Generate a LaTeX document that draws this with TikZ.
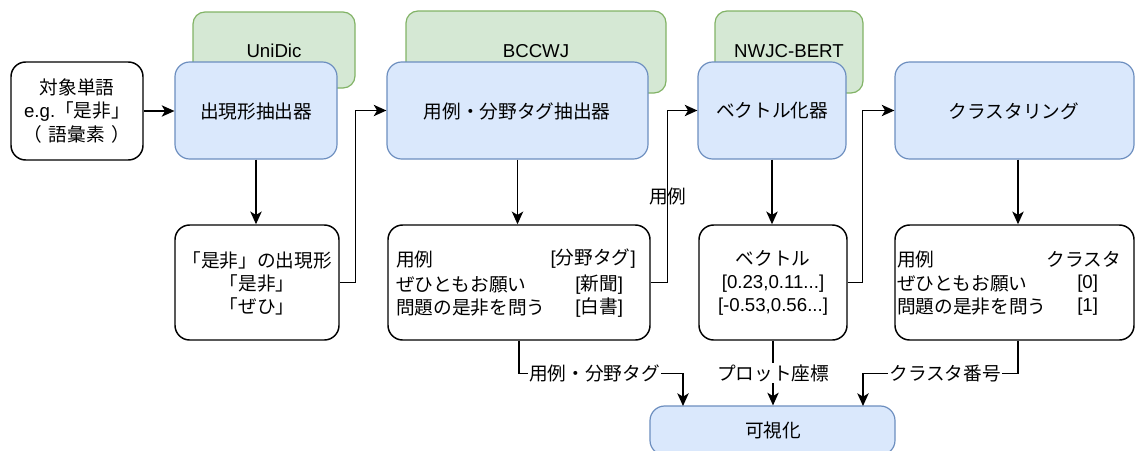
\documentclass[tikz,border=0pt]{standalone}
\usepackage{fontspec}
\setmainfont{Liberation Sans}
\newfontfamily\jp{Noto Sans CJK JP}
\usetikzlibrary{arrows.meta,fit}
\definecolor{bfill}{HTML}{DAE8FC}
\definecolor{bdraw}{HTML}{6C8EBF}
\definecolor{gfill}{HTML}{D5E8D4}
\definecolor{gdraw}{HTML}{82B366}
\begin{document}
\begin{tikzpicture}[x=0.75pt,y=-0.75pt,
  font=\fontsize{14}{17.3}\selectfont,
  bluebox/.style={draw=bdraw,fill=bfill,rounded corners=11pt,line width=0.9pt,inner sep=0pt,align=center},
  greenbox/.style={draw=gdraw,fill=gfill,rounded corners=9pt,line width=0.9pt,inner sep=0pt,align=center},
  whitebox/.style={draw=black,fill=white,rounded corners=11pt,line width=1.1pt,inner sep=0pt,align=center},
  txt/.style={inner sep=0pt},
  elabel/.style={fill=white,inner sep=1pt},
  conn/.style={line width=1.1pt,-{Stealth[length=9.5pt,width=8.5pt,inset=2.5pt]}}]
\useasboundingbox (0,0) rectangle (1135,450);

% green resource boxes
\node[greenbox,fit={(193,12)(355,88)}] (unidic) {};
\node[txt] (unidicT) at (274,51) {UniDic};
\node[greenbox,fit={(406,11)(666,93)}] (bccwj) {};
\node[txt] (bccwjT) at (536,51) {BCCWJ};
\node[greenbox,fit={(715,11)(863,93)}] (nwjc) {};
\node[txt] (nwjcT) at (789,51) {NWJC-BERT};

% top row
\node[whitebox,fit={(11,62)(143,160)}] (target) {};
\node[txt,align=center] (targetT) at (77,111) {{\jp 対象単語}\\e.g.{\jp 「是非」}\\{\jp （\hspace{0.35em}語彙素\hspace{0.35em}）}};
\node[bluebox,fit={(175,62)(337,159)}] (ext) {};
\node[txt] (extT) at (256,111) {\jp 出現形抽出器};
\node[bluebox,fit={(387,62)(648,159)}] (ex) {};
\node[txt] (exT) at (517,111) {\jp 用例・分野タグ抽出器};
\node[bluebox,fit={(698,62)(846,159)}] (vec) {};
\node[txt] (vecT) at (772,111) {\jp ベクトル化器};
\node[bluebox,fit={(895,62)(1134,159)}] (clus) {};
\node[txt] (clusT) at (1014,111) {\jp クラスタリング};

% second row
\node[whitebox,fit={(175,225)(339,340)}] (occ) {};
\node[txt,align=center] (occT) at (257,283) {{\jp 「是非」の出現形}\\{\jp 「是非」}\\{\jp 「ぜひ」}};
\node[whitebox,fit={(388,225)(650,340)}] (usage) {};
\node[txt,anchor=west] (u1) at (396,259) {\jp 用例};
\node[txt,anchor=east] (u2) at (636,259) {[{\jp 分野タグ}]};
\node[txt,anchor=west] (u3) at (396,285) {\jp ぜひともお願い};
\node[txt,anchor=west] (u4) at (575,285) {[{\jp 新聞}]};
\node[txt,anchor=west] (u5) at (396,308) {\jp 問題の是非を問う};
\node[txt,anchor=west] (u6) at (575,308) {[{\jp 白書}]};
\node[whitebox,fit={(699,225)(847,340)}] (vbox) {};
\node[txt,align=center] (vboxT) at (773,283) {{\jp ベクトル}\\{[0.23,0.11...]}\\{[-0.53,0.56...]}};
\node[whitebox,fit={(895,225)(1134,340)}] (cbox) {};
\node[txt,anchor=west] (c1) at (897,259) {\jp 用例};
\node[txt,anchor=east] (c2) at (1121,259) {\jp クラスタ};
\node[txt,anchor=west] (c3) at (897,284) {\jp ぜひともお願い};
\node[txt,anchor=west] (c4) at (1077,284) {[0]};
\node[txt,anchor=west] (c5) at (897,307) {\jp 問題の是非を問う};
\node[txt,anchor=west] (c6) at (1077,307) {[1]};

% visualisation
\node[bluebox,fit={(650,406)(895,455)}] (vis) {};
\node[txt] (visT) at (773,430) {\jp 可視化};
\coordinate (visL) at (683,406);
\coordinate (visR) at (863,406);

% connectors
\draw[conn] (target.east) -- (ext.west |- target.east);
\draw[conn] (ext.south) -- (ext.south |- occ.north);
\draw[conn] (occ.east) -- ++(16,0) |- (ex.west);
\draw[conn] (ex.south) -- (ex.south |- usage.north);
\draw[conn] (usage.east) -- ++(17,0) |- node[pos=0.25,inner sep=0pt] (lblA) {\jp 用例} (vec.west);
\draw[conn] (vec.south) -- (vec.south |- vbox.north);
\draw[conn] (vbox.east) -- ++(15,0) |- (clus.west);
\draw[conn] (clus.south -| 1018,0) -- (cbox.north -| 1018,0);
\draw[conn] (usage.south) -- ++(0,33) -| node[pos=0.23,elabel] (lblB) {\jp 用例・分野タグ} (visL);
\draw[conn] (vbox.south) -- node[elabel] (lblC) {\jp プロット座標} (vbox.south |- vis.north);
\draw[conn] (cbox.south -| 1018,0) -- ++(0,33) -| node[pos=0.235,elabel] (lblD) {\jp クラスタ番号} (visR);
\end{tikzpicture}
\end{document}
